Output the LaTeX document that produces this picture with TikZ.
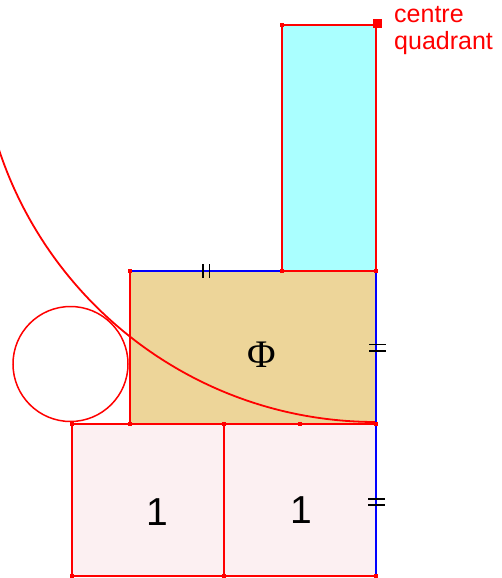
\documentclass[tikz,border=0pt]{standalone}
\usepackage{fontspec}
\setmainfont{Liberation Sans}
\newfontfamily\phifont{Liberation Serif}
\usetikzlibrary{calc}
\definecolor{goldfill}{RGB}{237,213,153}
\definecolor{cyanfill}{RGB}{170,255,255}
\definecolor{pinkfill}{RGB}{252,240,242}
\tikzset{
  side/.style={red,line width=1.8pt},
  blueside/.style={blue,line width=1.8pt},
  vtx/.style={fill=red,draw=none,minimum size=4.5pt,inner sep=0pt},
  tickmark/.style={black,line width=1.6pt},
}

\begin{document}
\begin{tikzpicture}[x=1pt,y=-1pt]
\useasboundingbox (0,0) rectangle (502,578);
\coordinate (A) at (72,576); \coordinate (B) at (224,576); \coordinate (C) at (376,576);
\coordinate (D) at (72,424); \coordinate (E) at (130,424); \coordinate (F) at (224,424);
\coordinate (G) at (300,424); \coordinate (H) at (376,424);
\coordinate (I) at (130,271); \coordinate (J) at (282,271); \coordinate (K) at (376,271);
\coordinate (L) at (282,25); \coordinate (M) at (376,25);
\fill[pinkfill] (A) rectangle (H); \fill[goldfill] (E) rectangle (K); \fill[cyanfill] (J) rectangle (M);
\begin{scope} \clip (-5,25) rectangle (376,430); \draw[side] (M) circle[radius=397pt]; \end{scope}
\draw[side,line width=1.5pt] (70.5,364) circle[radius=57.5pt];
\draw[side] (D) -- (A) -- (C); \draw[side] (F) -- (B); \draw[side] (D) -- (H); \draw[side] (E) -- (I);
\draw[side] (J) -- (L) -- (M) -- (K) -- (J);
\draw[blueside] (I) -- (J); \draw[blueside] (K) -- (C);
\coordinate (t1) at ($(I)!0.5!(J)$); \coordinate (t2) at ($(K)!0.5!(H)$); \coordinate (t3) at ($(H)!0.5!(C)$);
\draw[tickmark] ($(t1)+(-3.3,-7)$) -- ($(t1)+(-3.3,7)$) ($(t1)+(3.3,-7)$) -- ($(t1)+(3.3,7)$);
\draw[tickmark] ($(t2)+(-7,-3)$) -- ($(t2)+(10,-3)$) ($(t2)+(-7,3.5)$) -- ($(t2)+(10,3.5)$);
\draw[tickmark] ($(t3)+(-8,-1)$) -- ($(t3)+(9,-1)$) ($(t3)+(-8,5)$) -- ($(t3)+(9,5)$);
\node[vtx] at (A) {}; \node[vtx] at (B) {}; \node[vtx] at (C) {}; \node[vtx] at (D) {};
\node[vtx] at (E) {}; \node[vtx] at (F) {}; \node[vtx] at (G) {}; \node[vtx] at (H) {};
\node[vtx] at (I) {}; \node[vtx] at (J) {}; \node[vtx] at (K) {}; \node[vtx] at (L) {};
\node[vtx,minimum size=9pt] (centre) at ($(M)+(1,-1)$) {};
\node[red,anchor=base west,inner sep=0pt,font=\fontsize{25}{28}\selectfont] (lblA) at (394,23) {centre};
\node[red,anchor=base west,inner sep=0pt,font=\fontsize{25}{28}\selectfont] (lblB) at (394,50) {quadrant};
\node[anchor=base,font=\phifont\fontsize{39}{44}\selectfont] (phi) at (262,367) {Φ};
\node[anchor=base,font=\fontsize{39}{44}\selectfont] (oneA) at (157,525) {1};
\node[anchor=base,font=\fontsize{39}{44}\selectfont] (oneB) at (301,523) {1};
\end{tikzpicture}
\end{document}
